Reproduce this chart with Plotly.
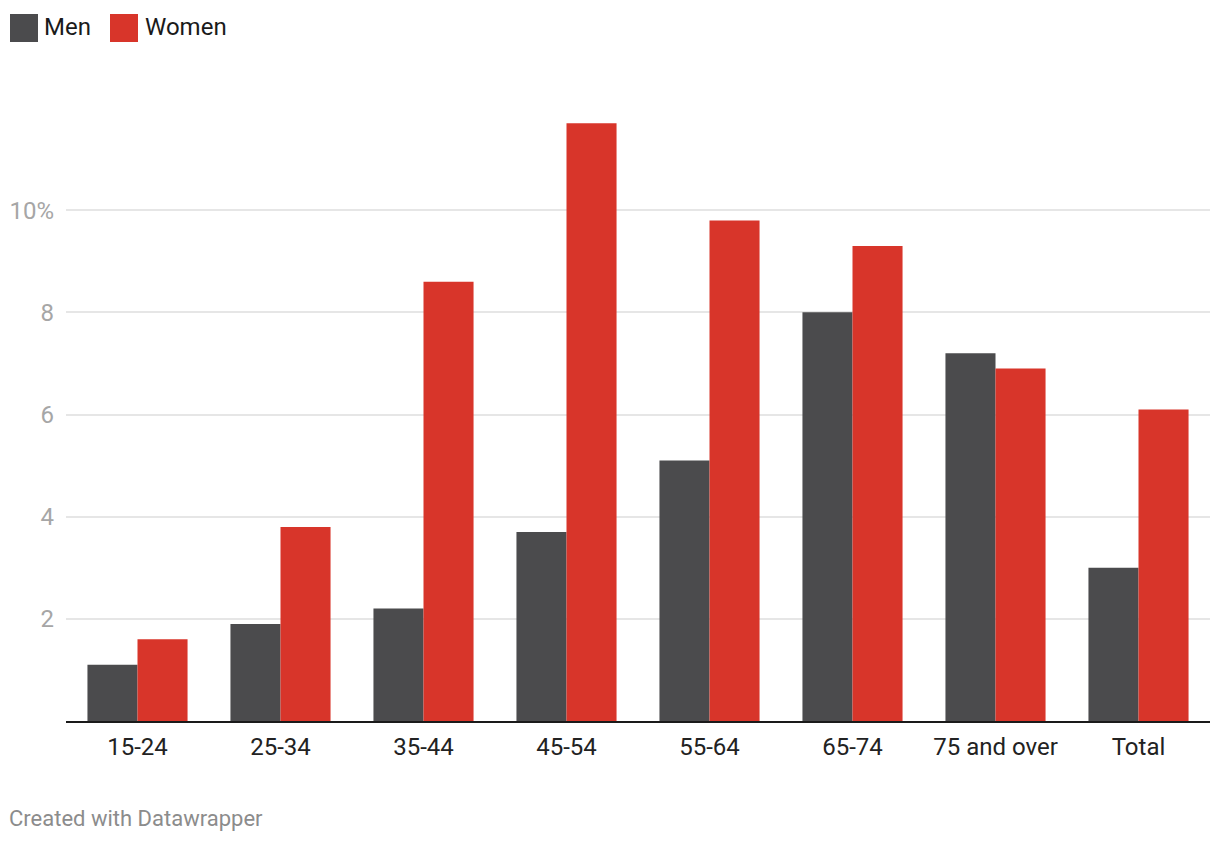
import plotly.graph_objects as go

categories = ["15-24", "25-34", "35-44", "45-54", "55-64", "65-74", "75 and over", "Total"]
men = [1.1, 1.9, 2.2, 3.7, 5.1, 8.0, 7.2, 3.0]
women = [1.6, 3.8, 8.6, 11.7, 9.8, 9.3, 6.9, 6.1]
tick_vals = [2, 4, 6, 8, 10]
tick_text = ["2", "4", "6", "8", "10%"]

MEN_C = "#4b4b4d"
WOMEN_C = "#d8352a"
FONT = "Roboto"

fig = go.Figure()
fig.add_trace(go.Bar(x=categories, y=men, name="Men", marker=dict(color=MEN_C, line=dict(width=0)),
                     hoverinfo="x+y+name"))
fig.add_trace(go.Bar(x=categories, y=women, name="Women", marker=dict(color=WOMEN_C, line=dict(width=0)),
                     hoverinfo="x+y+name"))

fig.update_layout(
    width=1220, height=844,
    margin=dict(l=58, r=18, t=100, b=131, autoexpand=False),
    paper_bgcolor="white", plot_bgcolor="white",
    barmode="group", bargap=0.3, bargroupgap=0,
    showlegend=False,
    font=dict(family=FONT, color="#333333"),
    xaxis=dict(showgrid=False, showline=True, linecolor="#1a1a1a", linewidth=2,
               ticks="", ticklabelstandoff=3, automargin=False,
               tickfont=dict(size=24, color="#222222", family=FONT), fixedrange=True),
    yaxis=dict(range=[0, 12], tickvals=tick_vals, ticktext=tick_text,
               showgrid=True, gridcolor="#e6e6e6", gridwidth=2, zeroline=False,
               showline=False, ticks="", ticklabelstandoff=11, automargin=False,
               tickfont=dict(size=24, color="#a6a6a6", family=FONT), fixedrange=True),
)

# legend drawn as paper-space swatches + labels
fig.add_shape(type="rect", xref="paper", yref="paper", xsizemode="pixel", ysizemode="pixel",
              xanchor=-56 / 1144, yanchor=1 + 94 / 613, x0=0, x1=28, y0=0, y1=-28,
              fillcolor=MEN_C, line=dict(width=0))
fig.add_shape(type="rect", xref="paper", yref="paper", xsizemode="pixel", ysizemode="pixel",
              xanchor=-56 / 1144, yanchor=1 + 94 / 613, x0=100, x1=128, y0=0, y1=-28,
              fillcolor=WOMEN_C, line=dict(width=0))
fig.add_annotation(text="Men", xref="paper", yref="paper", x=-24 / 1144, y=1 + 81 / 613,
                   xanchor="left", yanchor="middle", showarrow=False,
                   font=dict(size=24, color="#1a1a1a", family=FONT))
fig.add_annotation(text="Women", xref="paper", yref="paper", x=77 / 1144, y=1 + 81 / 613,
                   xanchor="left", yanchor="middle", showarrow=False,
                   font=dict(size=24, color="#1a1a1a", family=FONT))
fig.add_annotation(text="Created with Datawrapper", xref="paper", yref="paper",
                   x=-59 / 1144, y=-97 / 613, xanchor="left", yanchor="middle", showarrow=False,
                   font=dict(size=22, color="#8c8c8c", family=FONT))

fig.write_html("out.html")
